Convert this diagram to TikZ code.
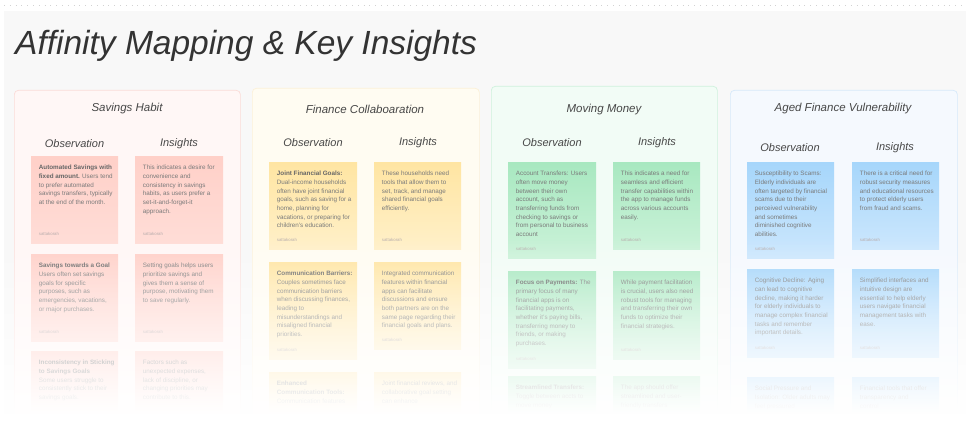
\documentclass[tikz,border=0pt]{standalone}
\usepackage{fontspec}
\setmainfont{Liberation Sans}
\newfontfamily\scriptface{Liberation Sans}
\usetikzlibrary{fadings,shadows}

\definecolor{bggray}{HTML}{F8F8F8}
\definecolor{notetxt}{HTML}{7A7A7A}
\definecolor{notebold}{HTML}{666666}
\definecolor{sigtxt}{HTML}{B8ADAD}
% panel tints
\definecolor{pinkpanel}{HTML}{FFF7F6}\definecolor{pinkedge}{HTML}{FBDCD8}
\definecolor{yellowpanel}{HTML}{FFFCF2}\definecolor{yellowedge}{HTML}{FCF1D8}
\definecolor{greenpanel}{HTML}{F2FCF6}\definecolor{greenedge}{HTML}{CFF2DD}
\definecolor{bluepanel}{HTML}{F5F9FE}\definecolor{blueedge}{HTML}{D6E9FA}
% sticky note gradients
\definecolor{pinktop}{HTML}{FFD0C8}\definecolor{pinkbot}{HTML}{FFDDD7}
\definecolor{yellowtop}{HTML}{FFE5A2}\definecolor{yellowbot}{HTML}{FFF0C9}
\definecolor{greentop}{HTML}{A8E8C0}\definecolor{greenbot}{HTML}{CBF2D9}
\definecolor{bluetop}{HTML}{A6D6FB}\definecolor{bluebot}{HTML}{CCE7FD}

\tikzfading[name=fadedown, top color=transparent!100, bottom color=transparent!0]

\tikzset{
  panel/.style={line width=0.7pt, rounded corners=4pt, inner sep=0pt, anchor=north west},
  notebox/.style={inner sep=0pt, draw=none, anchor=north west,
    drop shadow={opacity=0.10, shadow xshift=0pt, shadow yshift=-1.2pt}},
  notetext/.style={inner sep=0pt, align=left, text=notetxt, anchor=north west,
    font=\fontsize{6.3}{8.7}\selectfont},
  notesig/.style={inner sep=0pt, text=sigtxt, anchor=base west,
    font=\fontsize{4.3}{5}\selectfont},
  pinknote/.style={top color=pinktop, bottom color=pinkbot},
  yellownote/.style={top color=yellowtop, bottom color=yellowbot},
  greennote/.style={top color=greentop, bottom color=greenbot},
  bluenote/.style={top color=bluetop, bottom color=bluebot},
  boardtitle/.style={font=\scriptface\itshape\fontsize{33.5}{33.5}\selectfont, text=black!80, inner sep=0pt},
  grouptitle/.style={font=\scriptface\itshape\fontsize{11.5}{11.5}\selectfont, text=black!72, inner sep=0pt},
  colhead/.style={font=\scriptface\itshape\fontsize{11}{11}\selectfont, text=black!72, inner sep=0pt},
}

\newcommand{\hl}[1]{{\bfseries\color{notebold}#1}}

% name, x, y, width, height, colour style, text
\newcommand{\stickynote}[7]{%
  \node[notebox, #6, minimum width=#4, minimum height=#5] (#1) at (#2,#3) {};
  \node[notetext] (#1t) at ([xshift=7.7pt,yshift=-9.0pt]#1.north west) {#7};
  \node[notesig] (#1s) at ([xshift=7.7pt,yshift=8.3pt]#1.south west) {sattakorah};
}

\begin{document}
\begin{tikzpicture}[x=1pt,y=-1pt]
\useasboundingbox (0,0) rectangle (970,436);
\fill[white] (0,0) rectangle (970,436);
\fill[bggray] (4,11) rectangle (966,436);
\draw[gray!35, line width=0.8pt, dash pattern=on 0.8pt off 5pt] (4,5) -- (966,5);

\node[boardtitle, anchor=base west] (title) at (15,55) {Affinity Mapping \& Key Insights};

% ---------- group panels ----------
\node[panel, draw=pinkedge, fill=pinkpanel, minimum width=226, minimum height=330] (pan1) at (14,90) {};
\node[panel, draw=yellowedge, fill=yellowpanel, minimum width=227, minimum height=332] (pan2) at (252,88) {};
\node[panel, draw=greenedge, fill=greenpanel, minimum width=226, minimum height=334] (pan3) at (491,86) {};
\node[panel, draw=blueedge, fill=bluepanel, minimum width=227, minimum height=330] (pan4) at (730,90) {};

\node[grouptitle] (g1) at (127,109) {Savings Habit};
\node[grouptitle] (g2) at (365,109) {Finance Collaboaration};
\node[grouptitle] (g3) at (604,110) {Moving Money};
\node[grouptitle] (g4) at (843,109) {Aged Finance Vulnerability};

\node[colhead] (o1) at (74.5,144) {Observation};  \node[colhead] (i1) at (179,144) {Insights};
\node[colhead] (o2) at (313,143) {Observation};   \node[colhead] (i2) at (418,143) {Insights};
\node[colhead] (o3) at (552,143) {Observation};   \node[colhead] (i3) at (657,143) {Insights};
\node[colhead] (o4) at (790,148) {Observation};   \node[colhead] (i4) at (895,148) {Insights};

% ---------- Savings Habit ----------
\stickynote{a1}{31}{156}{87}{87}{pinknote}{\hl{Automated Savings with}\\\hl{fixed amount.} Users tend\\to prefer automated\\savings transfers, typically\\at the end of the month.}
\stickynote{b1}{135}{156}{88}{87}{pinknote}{This indicates a desire for\\convenience and\\consistency in savings\\habits, as users prefer a\\set-it-and-forget-it\\approach.}
\stickynote{a2}{31}{254}{87}{87}{pinknote}{\hl{Savings towards a Goal}\\Users often set savings\\goals for specific\\purposes, such as\\emergencies, vacations,\\or major purchases.}
\stickynote{b2}{135}{254}{88}{87}{pinknote}{Setting goals helps users\\prioritize savings and\\gives them a sense of\\purpose, motivating them\\to save regularly.}
\stickynote{a3}{31}{351}{87}{81}{pinknote}{\hl{Inconsistency in Sticking}\\\hl{to Savings Goals}\\Some users struggle to\\consistently stick to their\\savings goals.}
\stickynote{b3}{135}{351}{88}{81}{pinknote}{Factors such as\\unexpected expenses,\\lack of discipline, or\\changing priorities may\\contribute to this.}

% ---------- Finance Collaboaration ----------
\stickynote{c1}{269}{162}{88}{87}{yellownote}{\hl{Joint Financial Goals:}\\Dual-income households\\often have joint financial\\goals, such as saving for a\\home, planning for\\vacations, or preparing for\\children's education.}
\stickynote{d1}{374}{162}{87}{87}{yellownote}{These households need\\tools that allow them to\\set, track, and manage\\shared financial goals\\efficiently.}
\stickynote{c2}{269}{262}{88}{97}{yellownote}{\hl{Communication Barriers:}\\Couples sometimes face\\communication barriers\\when discussing finances,\\leading to\\misunderstandings and\\misaligned financial\\priorities.}
\stickynote{d2}{374}{262}{87}{87}{yellownote}{Integrated communication\\features within financial\\apps can facilitate\\discussions and ensure\\both partners are on the\\same page regarding their\\financial goals and plans.}
\stickynote{c3}{269}{372}{88}{60}{yellownote}{\hl{Enhanced}\\\hl{Communication Tools:}\\Communication features}
\stickynote{d3}{374}{372}{87}{60}{yellownote}{Joint financial reviews, and\\collaborative goal setting\\can enhance}

% ---------- Moving Money ----------
\stickynote{e1}{508}{162}{88}{96}{greennote}{Account Transfers: Users\\often move money\\between their own\\account, such as\\transferring funds from\\checking to savings or\\from personal to business\\account}
\stickynote{f1}{613}{162}{87}{87}{greennote}{This indicates a need for\\seamless and efficient\\transfer capabilities within\\the app to manage funds\\across various accounts\\easily.}
\stickynote{e2}{508}{271}{88}{97}{greennote}{\hl{Focus on Payments:} The\\primary focus of many\\financial apps is on\\facilitating payments,\\whether it's paying bills,\\transferring money to\\friends, or making\\purchases.}
\stickynote{f2}{613}{271}{87}{88}{greennote}{While payment facilitation\\is crucial, users also need\\robust tools for managing\\and transferring their own\\funds to optimize their\\financial strategies.}
\stickynote{e3}{508}{376}{88}{56}{greennote}{\hl{Streamlined Transfers:}\\Toggle between accts to\\move money}
\stickynote{f3}{613}{376}{87}{56}{greennote}{The app should offer\\streamlined and user-\\friendly transfers}

% ---------- Aged Finance Vulnerability ----------
\stickynote{h1}{747}{162}{87}{96}{bluenote}{Susceptibility to Scams:\\Elderly individuals are\\often targeted by financial\\scams due to their\\perceived vulnerability\\and sometimes\\diminished cognitive\\abilities.}
\stickynote{k1}{852}{162}{87}{87}{bluenote}{There is a critical need for\\robust security measures\\and educational resources\\to protect elderly users\\from fraud and scams.}
\stickynote{h2}{747}{269}{87}{88}{bluenote}{Cognitive Decline: Aging\\can lead to cognitive\\decline, making it harder\\for elderly individuals to\\manage complex financial\\tasks and remember\\important details.}
\stickynote{k2}{852}{269}{87}{88}{bluenote}{Simplified interfaces and\\intuitive design are\\essential to help elderly\\users navigate financial\\management tasks with\\ease.}
\stickynote{h3}{747}{377}{87}{55}{bluenote}{Social Pressure and\\Isolation: Older adults may\\feel pressured}
\stickynote{k3}{852}{377}{87}{55}{bluenote}{Financial tools that offer\\transparency and\\control}

% ---------- board fades out towards the bottom ----------
\fill[white, path fading=fadedown] (0,238) rectangle (970,414);
\fill[white] (0,413.5) rectangle (970,436);
\end{tikzpicture}
\end{document}
